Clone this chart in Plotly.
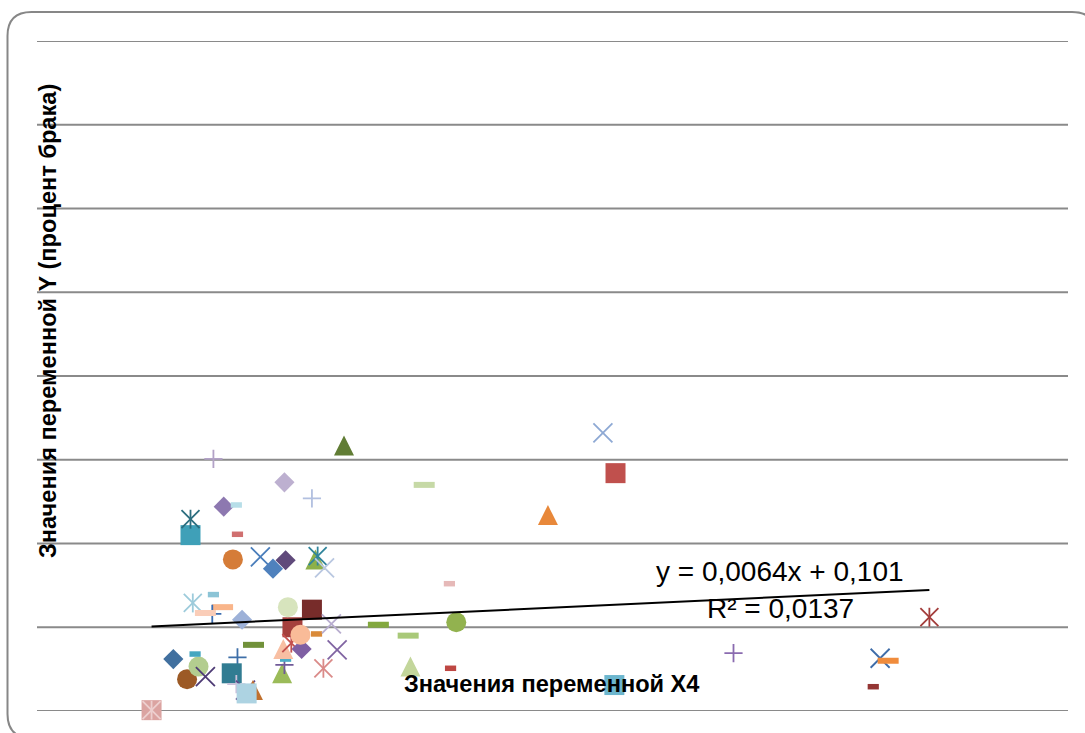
import plotly.graph_objects as go

# ---------------- data ----------------
x_vals = [0.00, 0.00, 0.31, 0.41, 0.38, 0.47, 0.19, 0.75, 0.70, 0.74, 0.82, 0.885, 0.83,
          0.89, 1.14, 1.16, 1.17, 1.50, 1.62, 1.23, 1.40, 1.19, 1.15, 1.22, 1.31, 1.44,
          1.30, 1.57, 0.36, 0.54, 0.62, 0.53, 0.47, 0.79, 0.71, 0.95, 1.17, 1.06, 1.43,
          1.45, 1.51, 0.34, 0.34, 0.75, 0.63, 0.74, 0.54, 1.16, 1.40, 1.68, 1.98, 2.24,
          2.66, 2.26, 2.60, 2.61, 2.38, 3.46, 3.94, 4.05, 4.04, 5.08, 6.36, 6.43, 6.30, 6.79]
y_vals = [0.001, 0.001, 0.038, 0.053, 0.068, 0.041, 0.062, 0.064, 0.045, 0.032, 0.025, 0.025, 0.021,
          0.079, 0.045, 0.055, 0.062, 0.051, 0.073, 0.100, 0.121, 0.124, 0.074, 0.081, 0.074, 0.092,
          0.091, 0.104, 0.129, 0.139, 0.124, 0.116, 0.117, 0.109, 0.181, 0.184, 0.180, 0.170, 0.181,
          0.185, 0.171, 0.210, 0.229, 0.211, 0.244, 0.246, 0.301, 0.273, 0.254, 0.317, 0.103, 0.090,
          0.106, 0.053, 0.152, 0.051, 0.270, 0.234, 0.332, 0.284, 0.031, 0.069, 0.063, 0.060, 0.029, 0.112]

# Excel series marker types and colours (one per point / series)
series_markers = ["square", "star", "circle", "circle", "shortdash", "x", "diamond", "plus", "square",
                  "plus", "x", "triangle", "square", "dash", "triangle", "plus", "shortdash", "star",
                  "x", "square", "square", "circle", "triangle", "star", "diamond", "shortdash",
                  "circle", "x", "star", "shortdash", "dash", "plus", "dash", "diamond", "circle",
                  "x", "diamond", "diamond", "triangle", "star", "x", "square", "star", "shortdash",
                  "diamond", "shortdash", "plus", "diamond", "plus", "triangle", "dash", "dash",
                  "circle", "triangle", "shortdash", "shortdash", "dash", "triangle", "x", "square",
                  "square", "plus", "x", "dash", "shortdash", "star"]
series_colors = ["#DBA3A1", "#EDCFCF", "#9C5A26", "#B3CD8F", "#45A7C0", "#4E3B75", "#41709F", "#3E6FA8",
                 "#317C92", "#CCC0DA", "#5F4B8B", "#C0702E", "#ADD3E2", "#71913A", "#9BBB59", "#705A98",
                 "#4BACC6", "#DA8A88", "#8064A2", "#A5403D", "#772C2A", "#D7E4BD", "#F8BFA3", "#C4514E",
                 "#7F5FA3", "#D98A38", "#F9BB98", "#B8ADCF", "#9DCBDB", "#8CC4D6", "#F9B58A", "#3C6DB0",
                 "#FACDB8", "#9DB1D8", "#D57C38", "#4A7EBB", "#604A7B", "#4F81BD", "#8DB04A", "#31859C",
                 "#B9C7E0", "#3FA0B8", "#2C6E7F", "#D07070", "#8D78B0", "#B7DEE8", "#B3A2C7", "#BDB0D0",
                 "#B2C0E0", "#617D35", "#83A83F", "#A9C979", "#92B24F", "#C3D69B", "#E6B9B8", "#BE4743",
                 "#C6D9A6", "#E8883A", "#8EA9D4", "#C0504D", "#6CB6CE", "#8A6BB0", "#3E6CA8", "#F08C3C",
                 "#943634", "#A33D3B"]

y_grid = [0.0, 0.1, 0.2, 0.3, 0.4, 0.5, 0.6, 0.7, 0.8]
trend_slope = 0.0064
trend_intercept = 0.101
eq_text = "y = 0,0064x + 0,101"
r2_text = "R² = 0,0137"
x_title = "Значения переменной X4"
y_title = "Значения переменной Y (процент брака)"

# ---------------- layout geometry ----------------
W, H = 1085, 733
L, R, T, B = 37, 1068, 41, 711
Y_RANGE = [0, 0.8]
X_RANGE = [-1, 8]
Y_PER_PX = (Y_RANGE[1] - Y_RANGE[0]) / (B - T)

# ---------------- styles ----------------
TRI_SIZE = 20
STYLE = {
    "diamond": [dict(symbol="diamond", size=15.5, line=dict(width=0))],
    "square": [dict(symbol="square", size=20, line=dict(width=0))],
    # arrow-up has its apex at the anchor point; shift by half its height so it is centred
    "triangle": [dict(symbol="arrow-up", size=TRI_SIZE, line=dict(width=0), dy=TRI_SIZE / 2 * Y_PER_PX)],
    "circle": [dict(symbol="circle", size=20, line=dict(width=0))],
    "x": [dict(symbol="x-thin-open", size=19, line=dict(width=1.8))],
    "plus": [dict(symbol="cross-thin-open", size=13, line=dict(width=1.8))],
    "star": [dict(symbol="x-thin-open", size=18, line=dict(width=1.8)),
             dict(symbol="line-ns-open", size=13.5, line=dict(width=1.8))],
    "dash": [dict(symbol="line-ew-open", size=15, line=dict(width=6))],
    "shortdash": [dict(symbol="line-ew-open", size=8, line=dict(width=5.5))],
}

fig = go.Figure()
for i, (xv, yv, mk, col) in enumerate(zip(x_vals, y_vals, series_markers, series_colors)):
    for st in STYLE[mk]:
        m = {k: v for k, v in st.items() if k != "dy"}
        m["color"] = col
        m["line"] = dict(st["line"], color=col)
        fig.add_trace(go.Scatter(x=[xv], y=[yv + st.get("dy", 0)], mode="markers", marker=m,
                                 name=f"Ряд{i+1}", showlegend=False, hoverinfo="skip",
                                 cliponaxis=False))

# trendline across the data x-range
x0, x1 = min(x_vals), max(x_vals)
fig.add_trace(go.Scatter(x=[x0, x1], y=[trend_slope * x0 + trend_intercept, trend_slope * x1 + trend_intercept],
                         mode="lines", line=dict(color="black", width=2), showlegend=False, hoverinfo="skip"))


def px(xp):
    return (xp - L) / (R - L)


def py(yp):
    return (B - yp) / (B - T)


def rounded_path(x0p, y0p, x1p, y1p, r):
    pts = [
        ("M", [(x0p + r, y0p)]),
        ("L", [(x1p - r, y0p)]),
        ("Q", [(x1p, y0p), (x1p, y0p + r)]),
        ("L", [(x1p, y1p - r)]),
        ("Q", [(x1p, y1p), (x1p - r, y1p)]),
        ("L", [(x0p + r, y1p)]),
        ("Q", [(x0p, y1p), (x0p, y1p - r)]),
        ("L", [(x0p, y0p + r)]),
        ("Q", [(x0p, y0p), (x0p + r, y0p)]),
    ]
    s = ""
    for cmd, ps in pts:
        s += cmd + " ".join(f"{px(a):.5f},{py(b):.5f}" for a, b in ps) + " "
    return s + "Z"


shapes = [dict(type="line", xref="paper", yref="y", x0=0, x1=1, y0=g, y1=g,
               line=dict(color="#8A8A8A", width=1.8), layer="below") for g in y_grid]
shapes.append(dict(type="path", xref="paper", yref="paper",
                   path=rounded_path(7.5, 12, 1096, 738, 24),
                   line=dict(color="#878787", width=2), fillcolor="rgba(0,0,0,0)", layer="above"))

fig.update_layout(
    width=W, height=H,
    margin=dict(l=L, r=W - R, t=T, b=H - B, pad=0),
    paper_bgcolor="white", plot_bgcolor="white",
    showlegend=False,
    xaxis=dict(range=X_RANGE, showgrid=False, zeroline=False, showticklabels=False,
               ticks="", showline=False),
    yaxis=dict(range=Y_RANGE, showgrid=False, zeroline=False, showticklabels=False,
               ticks="", showline=False),
    shapes=shapes,
    annotations=[
        dict(text=y_title, xref="paper", yref="paper", x=px(48), y=py(321), textangle=-90,
             showarrow=False, xanchor="center", yanchor="middle",
             font=dict(family="Liberation Sans", size=23.6, color="black", weight="bold")),
        dict(text=x_title, xref="paper", yref="paper", x=px(551), y=py(684),
             showarrow=False, xanchor="center", yanchor="middle",
             font=dict(family="Liberation Sans", size=23.6, color="black", weight="bold")),
        dict(text=eq_text, xref="paper", yref="paper", x=px(780), y=py(571),
             showarrow=False, xanchor="center", yanchor="middle",
             font=dict(family="Liberation Sans", size=28, color="black")),
        dict(text=r2_text, xref="paper", yref="paper", x=px(780), y=py(608),
             showarrow=False, xanchor="center", yanchor="middle",
             font=dict(family="Liberation Sans", size=28, color="black")),
    ],
)

fig.write_html("out.html", config={"displayModeBar": False},
               post_script="document.body.style.margin='0';document.body.style.overflow='hidden';")
